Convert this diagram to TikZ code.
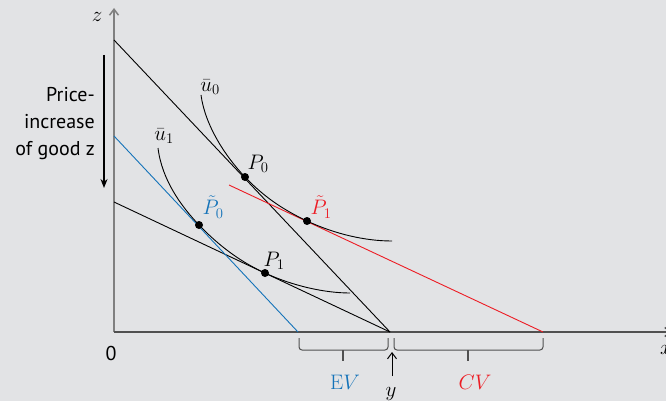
\RequirePackage{fix-cm}
\documentclass[tikz,border=0pt]{standalone}
\usepackage{fontspec}
\setsansfont{PT Sans}
\usetikzlibrary{arrows.meta}
\definecolor{bg}{RGB}{226,227,229}
\definecolor{evblue}{RGB}{20,115,185}
\definecolor{cvred}{RGB}{237,28,36}
\definecolor{axgray}{RGB}{128,128,128}
\definecolor{axdark}{RGB}{80,80,80}
\begin{document}
\begin{tikzpicture}[x=1pt,y=-1pt,
  thinline/.style={line width=0.9pt},
  dot/.style={circle, fill=black, inner sep=0pt, minimum size=8pt},
  lab/.style={font=\fontsize{21}{26}\selectfont, inner sep=0pt},
  txt/.style={font=\sffamily\fontsize{20}{27}\selectfont, inner sep=0pt},
  bracepath/.style={line width=1pt, axdark, rounded corners=3pt},
  barb/.style={-{Straight Barb[length=6pt,width=9pt]}}
  ]
\fill[bg] (0,0) rectangle (666,401);
\useasboundingbox (0,0) rectangle (666,401);
% axes
\coordinate (O) at (114,332);
\coordinate (ytop) at (114,8);
\coordinate (xend) at (672,332);
\draw[axgray, line width=1.5pt, barb] (O) -- (ytop);
\draw[axdark, line width=1.5pt, barb] (O) -- (xend);
\node[lab] (zlab) at (97,17) {$z$};
\node[lab, anchor=west] (xlab) at (660,350) {$x$};
\node[txt] (zero) at (111,353) {0};
% budget lines
\coordinate (A1) at (114,40);
\coordinate (B0) at (390,332);
\coordinate (A2) at (114,202);
\coordinate (Ab) at (114,136);
\coordinate (Bb) at (298,332);
\coordinate (Ar) at (229,185);
\coordinate (Br) at (543,332);
\draw[thinline] (A1) -- (B0);
\draw[thinline] (A2) -- (B0);
\draw[thinline, evblue] (Ab) -- (Bb);
\draw[thinline, cvred] (Ar) -- (Br);
% points
\node[dot] (P0) at (245,177) {};
\node[dot] (Pt1) at (307,221) {};
\node[dot] (Pt0) at (199,225) {};
\node[dot] (P1) at (265,273) {};
% indifference curves
\draw[thinline] (201,95) .. controls (205,125) and (225,156) .. (P0.center)
  .. controls (266,199) and (286,211) .. (Pt1.center)
  .. controls (335,234) and (365,241) .. (392,241);
\draw[thinline] (158,148) .. controls (162,180) and (181,206) .. (Pt0.center)
  .. controls (221,248) and (243,263) .. (P1.center)
  .. controls (293,286) and (325,293) .. (350,293);
% labels
\node[lab] (u0) at (210,87) {$\bar u_0$};
\node[lab] (u1) at (164,136) {$\bar u_1$};
\node[lab] (lP0) at (258,164) {$P_0$};
\node[lab, cvred] (lPt1) at (321,207) {$\tilde P_1$};
\node[lab, evblue] (lPt0) at (213,207) {$\tilde P_0$};
\node[lab] (lP1) at (274,261) {$P_1$};
% price increase
\node[txt, align=right, anchor=east] (price) at (95,124) {Price-\\increase\\of good z};
\coordinate (ptop) at (104,55);
\coordinate (pbot) at (104,188);
\draw[line width=1.5pt, -{Stealth[length=9pt,width=7pt]}] (ptop) -- (pbot);
% braces
\draw[bracepath] (299,338) -- (299,350) -- (388,350) -- (388,338);
\draw[line width=1.5pt, axdark] (343,350) -- (343,361);
\draw[bracepath] (394,338) -- (394,350) -- (543,350) -- (543,338);
\draw[line width=1.5pt, axdark] (468,350) -- (468,361);
\node[lab, evblue] (EV) at (345,382) {$\mathrm{E}V$};
\node[lab, cvred] (CV) at (475,382) {$CV$};
\coordinate (yarrlow) at (392,376);
\coordinate (yarrtop) at (392,352);
\draw[line width=1pt, barb] (yarrlow) -- (yarrtop);
\node[lab] (ylab) at (391,394) {$y$};
\end{tikzpicture}
\end{document}
